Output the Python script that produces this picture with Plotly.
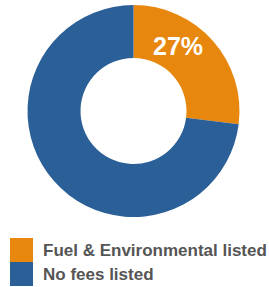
import plotly.graph_objects as go

labels = ["Fuel & Environmental listed", "No fees listed"]
values = [27, 73]
colors = ["#E8870E", "#2B5F97"]

W, H = 269, 287

fig = go.Figure()
fig.add_trace(go.Pie(
    labels=labels,
    values=values,
    hole=0.5,
    sort=False,
    direction="clockwise",
    rotation=0,
    marker=dict(colors=colors, line=dict(width=0)),
    textinfo="none",
    hoverinfo="label+percent",
    showlegend=False,
    domain=dict(x=[27 / W, 240 / W], y=[1 - 217 / H, 1 - 5 / H]),
))

pct = round(100 * values[0] / sum(values))
annotations = [dict(
    x=178 / W, y=1 - 46 / H, xref="paper", yref="paper",
    text=f"<b>{pct}%</b>", showarrow=False,
    font=dict(family="Liberation Sans, Arial", size=25, color="white"),
    xanchor="center", yanchor="middle",
)]

shapes = []
sq_top = [238, 262]
for i, (lab, col) in enumerate(zip(labels, colors)):
    t = sq_top[i]
    shapes.append(dict(
        type="rect", xref="paper", yref="paper",
        x0=10 / W, x1=33 / W, y0=1 - (t + 24) / H, y1=1 - t / H,
        fillcolor=col, line=dict(width=0),
    ))
    annotations.append(dict(
        x=41 / W, y=1 - (t + 12.5) / H, xref="paper", yref="paper",
        text=f"<b>{lab}</b>", showarrow=False,
        font=dict(family="Liberation Sans, Arial", size=17, color="#555555"),
        xanchor="left", yanchor="middle",
    ))

fig.update_layout(
    width=W, height=H,
    margin=dict(l=0, r=0, t=0, b=0),
    paper_bgcolor="white",
    plot_bgcolor="white",
    annotations=annotations,
    shapes=shapes,
)

fig.write_html(
    "out.html",
    config={"displayModeBar": False},
    post_script="document.body.style.margin='0';document.body.style.overflow='hidden';",
)
